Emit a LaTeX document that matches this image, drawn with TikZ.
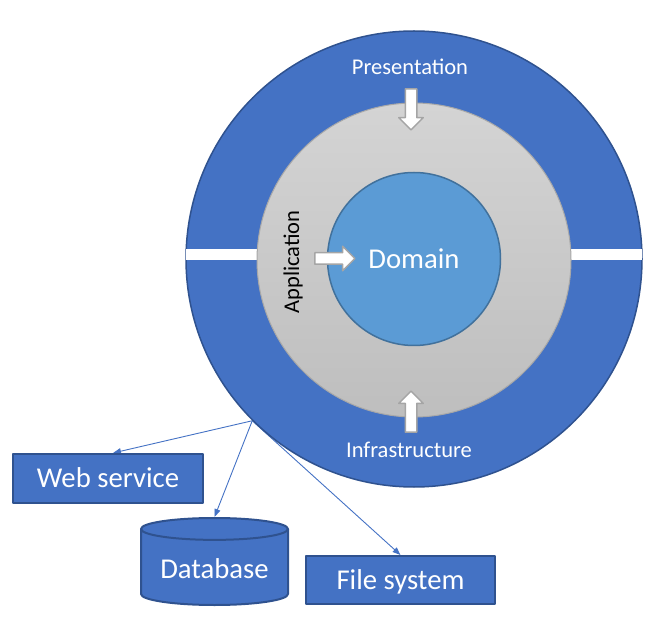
\documentclass[tikz,border=0pt]{standalone}
\usepackage{fontspec}
\setmainfont{Carlito}
\usetikzlibrary{shapes.geometric,shapes.arrows,arrows.meta,backgrounds}
\definecolor{ringblue}{RGB}{68,114,196}
\definecolor{ringedge}{RGB}{47,82,143}
\definecolor{coreblue}{RGB}{91,155,213}
\definecolor{coreedge}{RGB}{65,113,156}
\definecolor{graytop}{RGB}{212,212,212}
\definecolor{graybot}{RGB}{190,190,190}
\definecolor{grayedge}{RGB}{168,168,168}
\definecolor{arrowedge}{RGB}{165,165,165}
\begin{document}
\begin{tikzpicture}[x=1pt, y=-1pt, line join=round, font=\fontsize{22.5}{27}\selectfont]
	\tikzset{layer text/.style={text=white, inner sep=0pt, text height=16.9pt, text depth=2.5pt},
		big text/.style={font=\fontsize{28.7}{34}\selectfont, text height=21.5pt, text depth=3.2pt},
		box style/.style={draw=ringedge, line width=2pt, fill=ringblue, text=white, big text},
		block arrow/.style={single arrow, draw=arrowedge, fill=white, line width=1.5pt, inner xsep=0pt, inner ysep=5pt, single arrow head extend=6.5pt},
		link/.style={ringblue, line width=0.9pt, -{Triangle[length=8pt,width=6pt]}}}
	\useasboundingbox (0,0) rectangle (648,620);
	\path (414,259) coordinate (O)
	(108,478.5) coordinate (W)
	(214.5,561.5) coordinate (D)
	(400.5,580) coordinate (F)
	;
	% rings
	\node[circle, draw=ringedge, line width=1.5pt, fill=ringblue, minimum size=456pt, inner sep=0pt] (outer) at (O) {};
	\fill[white] (186,249) rectangle (642,260);
	\node[circle, draw=grayedge, line width=1pt, top color=graytop, bottom color=graybot, minimum size=314pt, inner sep=0pt] (app) at (414,260) {};
	\node[circle, draw=coreedge, line width=1.5pt, fill=coreblue, minimum size=173pt, inner sep=0pt, text=white, big text] (dom) at (O) {Domain};
	% layer names
	\node[layer text] (pres) at (410,67) {Presentation};
	\node[layer text] (infra) at (409,450) {Infrastructure};
	\node[layer text, text=black, rotate=90] (appname) at (292,262) {Application};
	% block arrows
	\node[block arrow, rotate=-90, minimum height=41pt] (presarrow) at (411,106.5) {};
	\node[block arrow, rotate=90, minimum height=41pt] (infraarrow) at (411,414.5) {};
	\node[block arrow, minimum height=40pt] (apparrow) at (332,258.5) {};
	% outside things
	\node[box style, minimum width=190pt, minimum height=49pt] (web) at (W) {Web service};
	\node[box style, cylinder, shape border rotate=90, aspect=0.19, minimum width=147pt, minimum height=87pt, anchor=shape center] (db) at (D) {Database};
	\node[box style, minimum width=189pt, minimum height=48pt] (fs) at (F) {File system};
	\begin{scope}[on background layer]
		\draw[link] (outer.225) -- ([xshift=5pt]web.north);
		\draw[link] (outer.225) -- (db.north);
		\draw[link] (outer.225) -- (fs.north);
	\end{scope}
\end{tikzpicture}
\end{document}
